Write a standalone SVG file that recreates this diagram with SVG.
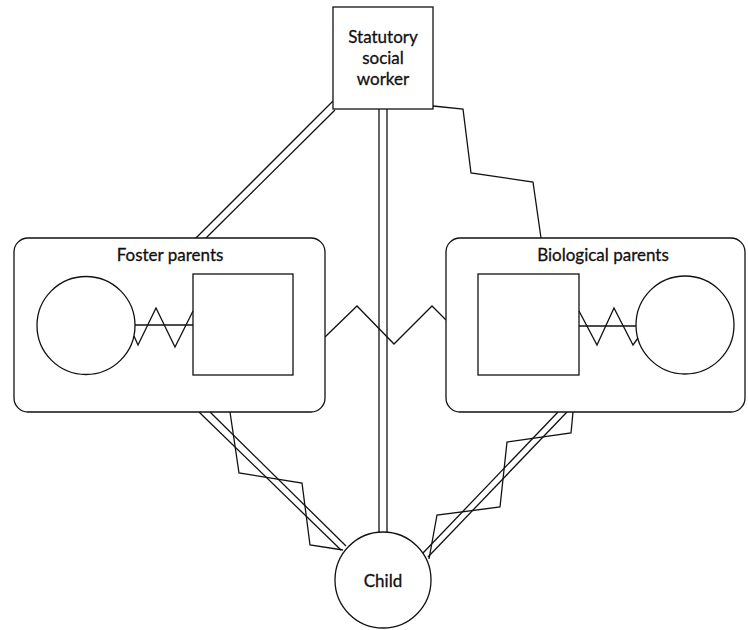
<svg xmlns="http://www.w3.org/2000/svg" width="748" height="630" viewBox="0 0 748 630">
<style>
.s{fill:#fff;stroke:#111;stroke-width:1.3}
.l{fill:none;stroke:#111;stroke-width:1.3;stroke-linejoin:miter}
.t{font-family:Lato,"Open Sans","Liberation Sans",sans-serif;font-size:17px;fill:#111;stroke:#111;stroke-width:0.3;text-anchor:middle}
</style>
<rect width="748" height="630" fill="#fff"/>
<g id="connectors">
<line class="l" x1="333" y1="101" x2="195" y2="239"/>
<line class="l" x1="335" y1="110" x2="205" y2="239"/>
<line class="l" x1="379" y1="109" x2="379" y2="533"/>
<line class="l" x1="387" y1="109" x2="387" y2="533"/>
<polyline class="l" points="433,106 463,109 471,173 533,182 541,238"/>
<polyline class="l" points="325,337 357,306 394,344 432,306 446,320"/>
<line class="l" x1="199" y1="412" x2="341" y2="550"/>
<line class="l" x1="210" y1="412" x2="346" y2="546"/>
<polyline class="l" points="230,412 239,473 302,483 310,545 343,550"/>
<line class="l" x1="558" y1="412" x2="423" y2="553"/>
<line class="l" x1="567" y1="412" x2="428" y2="557"/>
<polyline class="l" points="573,412 571,433 507,442 500,507 437,515 429,559"/>
</g>
<g id="statutory">
<rect class="s" x="333" y="7" width="100" height="102"/>
<text class="t" x="383" y="43">Statutory</text>
<text class="t" x="383" y="64">social</text>
<text class="t" x="383" y="85">worker</text>
</g>
<g id="foster">
<rect class="s" x="14" y="238" width="311" height="174" rx="14"/>
<text class="t" x="170" y="261">Foster parents</text>
<circle class="s" cx="86" cy="325.5" r="49"/>
<rect class="s" x="193" y="274" width="100" height="101"/>
<line class="l" x1="135" y1="325" x2="193" y2="325"/>
<polyline class="l" points="134,336 138,345 156,308 175,347 193,311"/>
</g>
<g id="biological">
<rect class="s" x="446" y="238" width="299" height="174" rx="14"/>
<text class="t" x="603" y="261">Biological parents</text>
<rect class="s" x="478" y="274" width="101" height="101"/>
<circle class="s" cx="685" cy="325" r="49"/>
<line class="l" x1="579" y1="326" x2="636" y2="326"/>
<polyline class="l" points="579,311 597,345 614,308 633,345 638,338"/>
</g>
<g id="child">
<circle class="s" cx="383" cy="580" r="48"/>
<text class="t" x="383" y="587">Child</text>
</g>
</svg>
